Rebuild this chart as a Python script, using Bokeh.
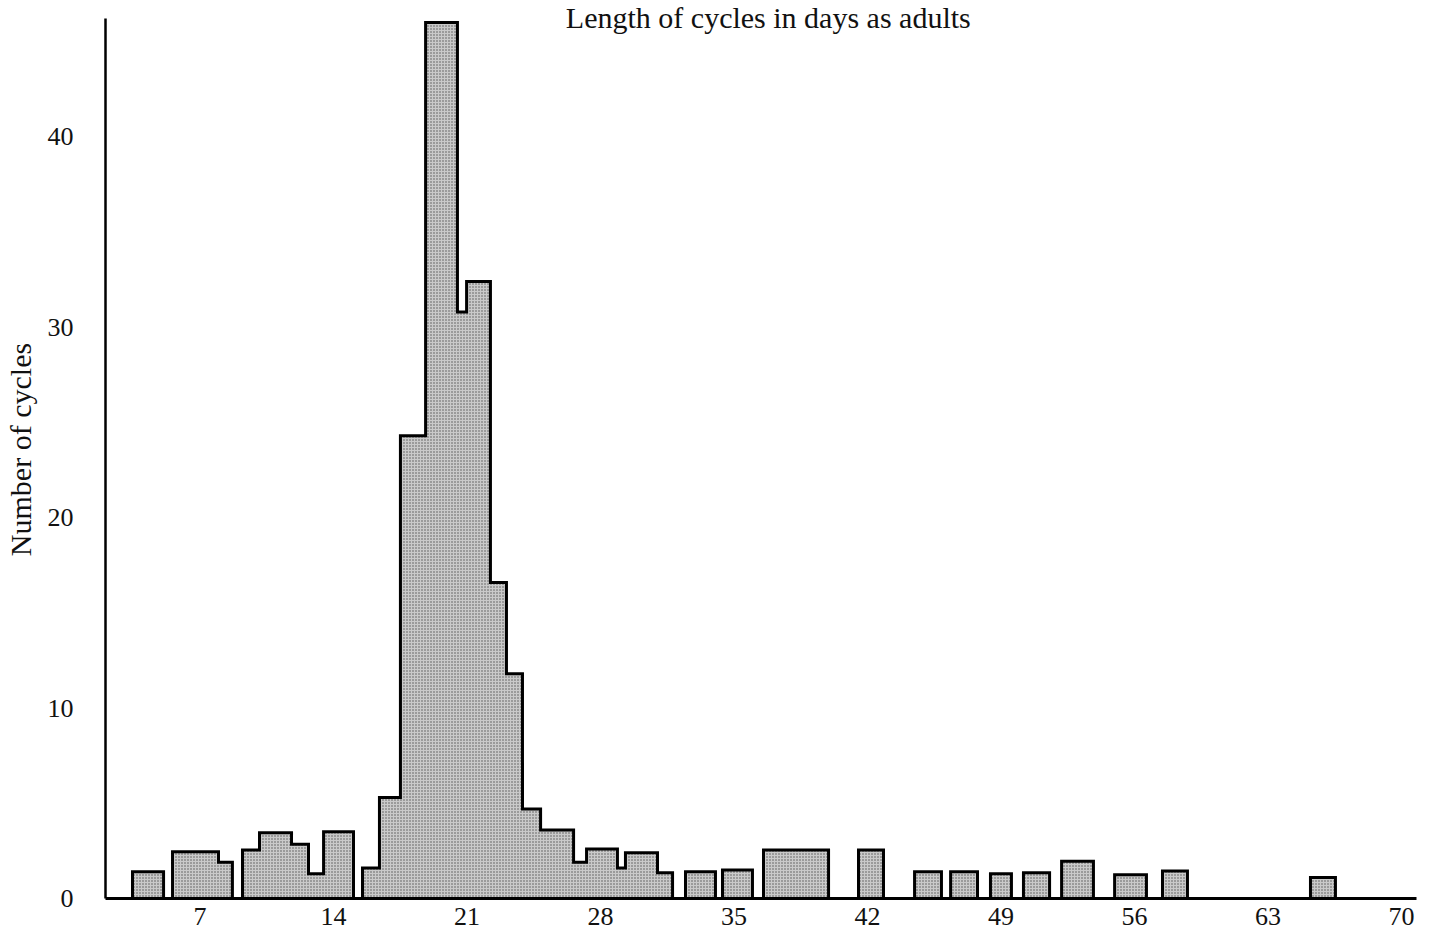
from bokeh.plotting import figure
from bokeh.models import Range1d, FixedTicker, Label
from bokeh.embed import file_html
from bokeh.resources import INLINE

# ---- data ----
title_text = "Length of cycles in days as adults"
y_title = "Number of cycles"
x_ticks = [7, 14, 21, 28, 35, 42, 49, 56, 63, 70]
y_ticks = [0, 10, 20, 30, 40]

bin_start = [3.46, 5.56, 7.97, 9.23, 10.12, 11.80, 12.69, 13.48, 15.52, 16.41, 17.51,
             18.83, 20.50, 20.98, 22.23, 23.07, 23.91, 24.86, 26.59, 27.27, 28.89,
             29.31, 30.99, 32.46, 34.40, 36.55, 41.53, 44.47, 46.36, 48.45, 50.18,
             52.18, 54.96, 57.47, 65.23]
bin_end = [5.09, 7.97, 8.70, 10.12, 11.80, 12.69, 13.48, 15.05, 16.41, 17.51, 18.83,
           20.50, 20.98, 22.23, 23.07, 23.91, 24.86, 26.59, 27.27, 28.89, 29.31,
           30.99, 31.78, 34.03, 35.97, 39.96, 42.84, 45.88, 47.77, 49.55, 51.55,
           53.85, 56.63, 58.78, 66.54]
counts = [1.4, 2.45, 1.9, 2.55, 3.45, 2.85, 1.3, 3.5, 1.6, 5.3, 24.3,
          46.0, 30.8, 32.4, 16.6, 11.8, 4.7, 3.6, 1.9, 2.6, 1.6,
          2.4, 1.35, 1.4, 1.5, 2.55, 2.55, 1.4, 1.4, 1.3, 1.35,
          1.95, 1.25, 1.45, 1.1]

# ---- build step outlines for contiguous groups of bins ----
xs_all, ys_all = [], []
cur_x, cur_y = None, None
for i in range(len(counts)):
    if cur_x is None or abs(bin_start[i] - bin_end[i - 1]) > 1e-6:
        if cur_x is not None:
            cur_x.append(bin_end[i - 1]); cur_y.append(0)
            xs_all.append(cur_x); ys_all.append(cur_y)
        cur_x, cur_y = [bin_start[i]], [0]
    cur_x += [bin_start[i], bin_end[i]]
    cur_y += [counts[i], counts[i]]
cur_x.append(bin_end[-1]); cur_y.append(0)
xs_all.append(cur_x); ys_all.append(cur_y)

FONT = "Liberation Serif"
Y_TOP = 47.16
AXIS_TOP = 46.2

p = figure(width=1421, height=931, output_backend="svg", toolbar_location=None,
           x_range=Range1d(2.045, 70.79), y_range=Range1d(0, Y_TOP),
           min_border_left=105, min_border_right=5, min_border_top=0,
           min_border_bottom=33)
p.outline_line_color = None
p.xgrid.visible = False
p.ygrid.visible = False
p.background_fill_color = "white"
p.border_fill_color = "white"

p.patches(xs=xs_all, ys=ys_all, fill_color="#cacaca",
          hatch_pattern="dot", hatch_color="#555555", hatch_scale=3,
          hatch_weight=1, line_color="black", line_width=3, line_join="miter")

p.xaxis.ticker = FixedTicker(ticks=x_ticks)
p.yaxis.ticker = FixedTicker(ticks=y_ticks)
for ax in (p.xaxis[0], p.yaxis[0]):
    ax.major_tick_line_color = None
    ax.minor_tick_line_color = None
    ax.major_label_text_font = FONT
    ax.major_label_text_font_size = "26px"
    ax.major_label_text_color = "#111111"
    ax.axis_line_color = "black"
p.yaxis.bounds = (0, AXIS_TOP)
p.xaxis.axis_line_width = 3
p.yaxis.axis_line_width = 2.5
p.xaxis.major_label_standoff = 3
p.yaxis.major_label_standoff = 26
p.yaxis.axis_label = y_title
p.yaxis.axis_label_text_font = FONT
p.yaxis.axis_label_text_font_style = "normal"
p.yaxis.axis_label_text_font_size = "30px"
p.yaxis.axis_label_text_color = "#111111"
p.yaxis.axis_label_standoff = 8

p.add_layout(Label(x=36.8, y=Y_TOP, text=title_text, text_font=FONT,
                   text_font_size="30px", text_color="#111111",
                   text_align="center", text_baseline="top"))

open("out.html", "w").write(file_html(p, INLINE))
